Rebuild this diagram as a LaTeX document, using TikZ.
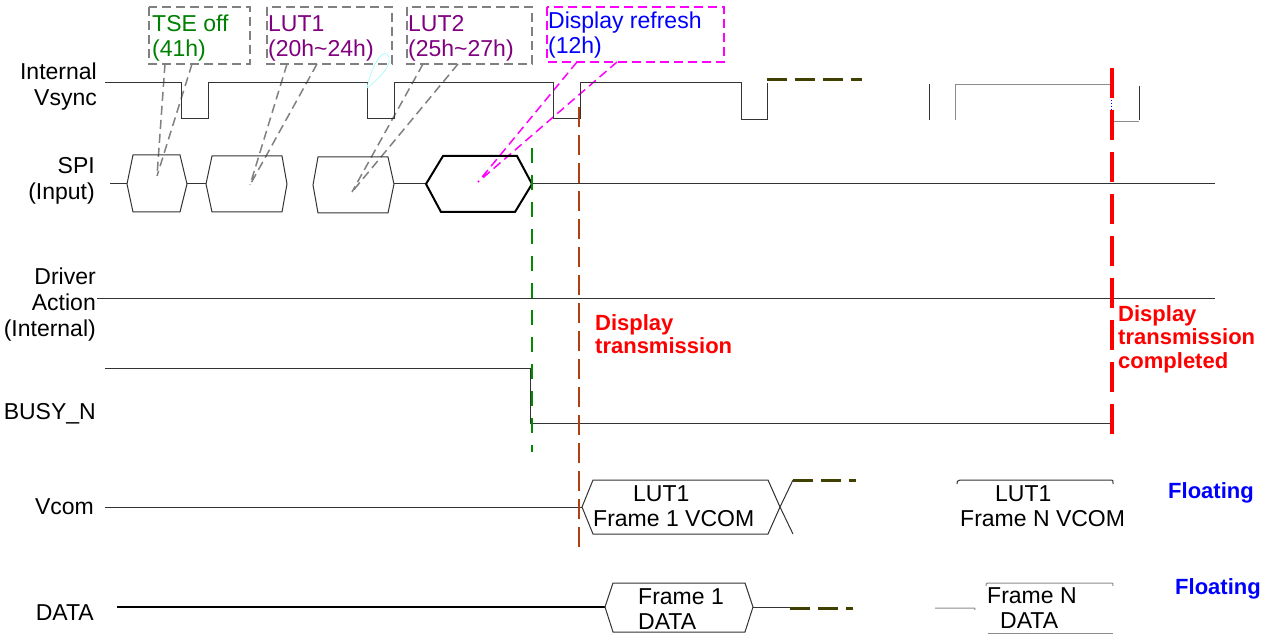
\documentclass[tikz,border=0pt]{standalone}
\usepackage{fontspec}
\setmainfont{Liberation Sans}
\definecolor{tsegreen}{RGB}{0,128,0}
\definecolor{lutpurple}{RGB}{128,0,128}
\definecolor{refblue}{RGB}{0,0,255}
\definecolor{calloutgray}{RGB}{128,128,128}
\definecolor{darkolive}{RGB}{64,64,0}
\definecolor{brownline}{RGB}{176,64,16}
\definecolor{greenline}{RGB}{0,140,0}
\definecolor{magentaline}{RGB}{255,0,255}
\definecolor{redline}{RGB}{255,0,0}
\definecolor{faintcyan}{RGB}{170,250,250}
\begin{document}
\begin{tikzpicture}[x=1pt,y=-1pt,
  wave/.style={line width=1pt, draw=black!80},
  graywave/.style={line width=1pt, draw=black!45},
  thickwave/.style={line width=2pt, draw=black},
  gbox/.style={draw=calloutgray, line width=1.5pt, dash pattern=on 9pt off 5pt},
  mbox/.style={draw=magentaline, line width=1.5pt, dash pattern=on 9pt off 5pt},
  lbl/.style={anchor=north east, align=right, inner sep=0pt, font=\fontsize{23}{26}\selectfont},
  txt/.style={anchor=north west, align=left, inner sep=0pt, font=\fontsize{23}{25}\selectfont},
  redtxt/.style={anchor=north west, align=left, inner sep=0pt, text=redline, font=\fontsize{22}{23.5}\selectfont\bfseries},
  floattxt/.style={anchor=north west, inner sep=0pt, text=refblue, font=\fontsize{22}{24}\selectfont\bfseries},
  olivedash/.style={draw=darkolive, line width=3pt, dash pattern=on 20pt off 8pt}
]
\useasboundingbox (0,0) rectangle (1277,636);

% signal labels
\node[lbl] (lvsync) at (97,63) {Internal\\Vsync};
\node[lbl] (lspi) at (95,157) {SPI\\(Input)};
\node[lbl] (ldrv) at (96,268) {Driver\\Action\\(Internal)};
\node[lbl] (lbusy) at (96,403) {BUSY\_N};
\node[lbl] (lvcom) at (94,498) {Vcom};
\node[lbl] (ldata) at (94,604) {DATA};

% callout boxes
\draw[gbox] (149,7) rectangle (250,64);
\draw[gbox] (267,7) rectangle (392,64);
\draw[gbox] (407,7) rectangle (532,64);
\draw[mbox] (547,7) rectangle (724,62);
\node[txt, text=tsegreen] (tse) at (152,15) {TSE off\\(41h)};
\node[txt, text=lutpurple] (lut1) at (268,15) {LUT1\\(20h\textasciitilde 24h)};
\node[txt, text=lutpurple] (lut2) at (408,15) {LUT2\\(25h\textasciitilde 27h)};
\node[txt, text=refblue] (dref) at (548,12) {Display refresh\\(12h)};

% callout tips
\coordinate (tsetip) at (157,176);
\coordinate (lut1tip) at (250,185);
\coordinate (lut2tip) at (352,192);
\coordinate (dreftip) at (478,182);
\draw[gbox] (165,64) -- (tsetip) (192,64) -- (tsetip);
\draw[gbox] (287,64) -- (lut1tip) (317,64) -- (lut1tip);
\draw[gbox] (423,64) -- (lut2tip) (458,64) -- (lut2tip);
\draw[mbox] (577,62) -- (dreftip) (617,62) -- (dreftip);

% Internal Vsync
\draw[wave] (105,83) -- (181,83) -- (181,119) -- (208,119) -- (208,83) -- (367,83) -- (367,119)
  -- (394,119) -- (394,83) -- (553,83) -- (553,119) -- (580,119) -- (580,83) -- (741,83)
  -- (741,120) -- (767,120) -- (767,83);
\draw[olivedash] (767,80) -- (862,80);
\draw[faintcyan, line width=0.7pt] (367,88) .. controls (372,62) and (386,45) .. (389,58)
  .. controls (391,66) and (380,78) .. (367,88);
\draw[wave] (929,84) -- (929,120);
\draw[graywave] (955,120) -- (955,85) -- (1111,85);
\draw[blue, line width=1pt, dotted] (1111,85) -- (1111,122);
\draw[graywave] (1113,122) -- (1139,122);
\draw[wave] (1139,120) -- (1139,86);

% SPI
\draw[wave] (110,184) -- (127,184);
\draw[wave] (127,184) -- (133,155) -- (180,155) -- (187,184) -- (180,212) -- (133,212) -- cycle;
\draw[wave] (187,184) -- (206,184);
\draw[wave] (206,184) -- (212,156) -- (282,156) -- (287,184) -- (282,212) -- (212,212) -- cycle;
\draw[wave] (313,185) -- (318,157) -- (388,157) -- (394,184) -- (388,213) -- (318,213) -- cycle;
\draw[wave] (394,184) -- (426,184);
\draw[thickwave] (426,184) -- (443,156) -- (517,156) -- (532,184) -- (515,212) -- (441,212) -- cycle;
\draw[wave] (532,184) -- (1215,184);

% Driver action
\draw[wave] (97,299) -- (1215,299);

% BUSY_N
\draw[wave] (105,368) -- (530,368) -- (530,423) -- (1111,423);

% Vcom
\draw[wave] (105,507) -- (582,507);
\draw[wave] (582,507) -- (593,480) -- (768,480) -- (780,507) -- (768,534) -- (593,534) -- cycle;
\draw[wave] (780,507) -- (793,480) (780,507) -- (793,534);
\draw[olivedash] (793,480) -- (856,480);
\node[txt] (v1) at (593,485) {\hspace*{40pt}LUT1\\Frame 1 VCOM};
\draw[wave] (957,484) .. controls (957,481) .. (960,480) -- (1111,480) .. controls (1113,480) .. (1113,484);
\node[txt] (vn) at (960,485) {\hspace*{35pt}LUT1\\Frame N VCOM};

% DATA
\draw[line width=1.5pt] (117,607) -- (605,607);
\draw[wave] (605,607) -- (613,583) -- (745,583) -- (753,607) -- (745,632) -- (613,632) -- cycle;
\draw[wave] (753,607) -- (790,607);
\draw[olivedash] (790,608) -- (853,608);
\node[txt] (d1) at (638,588) {Frame 1\\DATA};
\draw[graywave] (935,608) -- (973,608) .. controls (975,608) .. (975,610);
\draw[graywave] (986,586) .. controls (986,583) .. (989,583) -- (1111,583) .. controls (1113,583) .. (1113,586);
\draw[graywave] (988,633) -- (1113,633);
\node[txt] (dn) at (987,587) {Frame N\\\hspace*{13pt}DATA};

% vertical markers
\draw[greenline, line width=2.5pt, dash pattern=on 15pt off 12pt] (532,148) -- (532,452);
\draw[brownline, line width=2.5pt, dash pattern=on 20pt off 8pt] (579,107) -- (579,552);
\draw[redline, line width=4pt, dash pattern=on 30pt off 12pt] (1112,68) -- (1112,442);

% annotations
\node[redtxt] (dt) at (595,314) {Display\\transmission};
\node[redtxt] (dtc) at (1118,305) {Display\\transmission\\completed};
\node[floattxt] (fl1) at (1168,482) {Floating};
\node[floattxt] (fl2) at (1175,578) {Floating};
\end{tikzpicture}
\end{document}
